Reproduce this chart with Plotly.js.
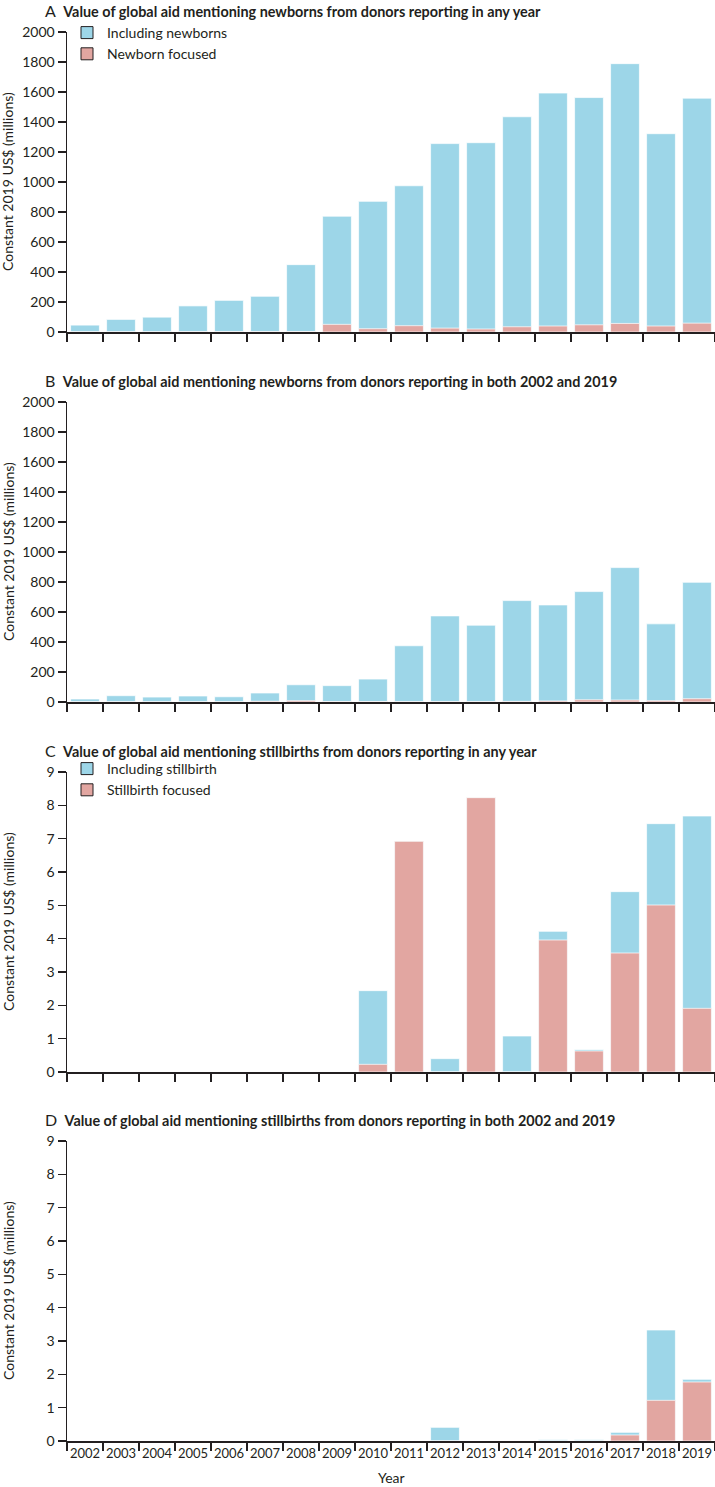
<!DOCTYPE html>
<html>
<head>
<meta charset="utf-8">
<script src="https://cdn.plot.ly/plotly-3.0.1.min.js"></script>
<style>
  body { margin: 0; background: #fff; }
  #chart { width: 715px; height: 1487px; }
</style>
</head>
<body>
<div id="chart"></div>
<script>
// years on the x axis
var years = ['2002', '2003', '2004', '2005', '2006', '2007', '2008', '2009', '2010',
             '2011', '2012', '2013', '2014', '2015', '2016', '2017', '2018', '2019']

// A - newborns, donors reporting in any year (US$ millions)
var newbornAnyIncl = [46, 84, 99, 174, 211, 238, 449, 772, 871, 975, 1256, 1262, 1435, 1593, 1563, 1789, 1322, 1559]
var newbornAnyFocus = [1, 1, 1, 2, 2, 2, 3, 51, 22, 42, 26, 20, 35, 40, 48, 57, 40, 59]

// B - newborns, donors reporting in both 2002 and 2019
var newbornBothIncl = [20, 42, 33, 40, 35, 60, 115, 109, 153, 375, 574, 512, 676, 647, 736, 896, 521, 798]
var newbornBothFocus = [1, 1, 1, 1, 1, 5, 9, 3, 3, 2, 2, 2, 4, 7, 15, 13, 9, 22]

// C - stillbirths, donors reporting in any year
var stillAnyIncl = [0, 0, 0, 0, 0, 0, 0, 0, 2.44, 6.92, 0.40, 8.23, 1.08, 4.22, 0.67, 5.41, 7.45, 7.68]
var stillAnyFocus = [0, 0, 0, 0, 0, 0, 0, 0, 0.23, 6.92, 0, 8.23, 0, 3.96, 0.63, 3.57, 5.01, 1.91]

// D - stillbirths, donors reporting in both 2002 and 2019
var stillBothIncl = [0, 0, 0, 0, 0, 0, 0, 0, 0, 0, 0.41, 0, 0, 0.04, 0.04, 0.26, 3.33, 1.85]
var stillBothFocus = [0, 0, 0, 0, 0, 0, 0, 0, 0, 0, 0, 0, 0, 0, 0, 0.18, 1.22, 1.77]

var titles = [
    'Value of global aid mentioning newborns from donors reporting in any year',
    'Value of global aid mentioning newborns from donors reporting in both 2002 and 2019',
    'Value of global aid mentioning stillbirths from donors reporting in any year',
    'Value of global aid mentioning stillbirths from donors reporting in both 2002 and 2019'
]
var letters = ['A', 'B', 'C', 'D']

var blue = '#9dd6e8'
var pink = '#e2a6a1'
var ink = '#231f20'
var font = 'Lato, "Open Sans", sans-serif'

var W = 715, H = 1487, L = 67
// pixel top of each plot area
var tops = [32, 402, 772, 1141]
var plotH = 300

function py(p) { return 1 - p / H }
function px(p) { return (p - L) / (W - L) }

var series = [
    [newbornAnyIncl, newbornAnyFocus],
    [newbornBothIncl, newbornBothFocus],
    [stillAnyIncl, stillAnyFocus],
    [stillBothIncl, stillBothFocus]
]

var data = []
series.forEach(function (s, i) {
    var xa = i === 0 ? 'x' : 'x' + (i + 1)
    var ya = i === 0 ? 'y' : 'y' + (i + 1)
    data.push({
        type: 'bar', x: years, y: s[0], xaxis: xa, yaxis: ya,
        marker: { color: blue, line: { color: 'rgba(255,255,255,0.7)', width: 1 } },
        showlegend: false, hoverinfo: 'x+y'
    })
    data.push({
        type: 'bar', x: years, y: s[1], xaxis: xa, yaxis: ya,
        marker: { color: pink, line: { color: 'rgba(255,255,255,0.7)', width: 1 } },
        showlegend: false, hoverinfo: 'x+y'
    })
})

// legend-only entries (dark outline like the original key)
var legendNames = [['Including newborns', 'Newborn focused', 'legend', 'x', 'y'],
                   ['Including stillbirth', 'Stillbirth focused', 'legend2', 'x3', 'y3']]
legendNames.forEach(function (ln) {
    data.push({
        type: 'bar', x: [years[0]], y: [null], name: ln[0], legend: ln[2],
        xaxis: ln[3], yaxis: ln[4],
        marker: { color: blue, line: { color: ink, width: 1 } }
    })
    data.push({
        type: 'bar', x: [years[0]], y: [null], name: ln[1], legend: ln[2],
        xaxis: ln[3], yaxis: ln[4],
        marker: { color: pink, line: { color: ink, width: 1 } }
    })
})

var legendBase = {
    xanchor: 'left', yanchor: 'top', bgcolor: 'rgba(0,0,0,0)',
    font: { size: 14, color: ink }, tracegroupgap: 0, itemclick: false
}

var layout = {
    width: W, height: H,
    margin: { l: L, r: 0, t: 0, b: 0 },
    paper_bgcolor: '#fff', plot_bgcolor: '#fff',
    barmode: 'overlay', bargap: 0.2,
    font: { family: font, size: 14, color: ink },
    annotations: [],
    legend: Object.assign({ x: px(67), y: py(17) }, legendBase),
    legend2: Object.assign({ x: px(67), y: py(tops[2] - 19) }, legendBase)
}

for (var i = 0; i < 4; i++) {
    var sfx = i === 0 ? '' : String(i + 1)
    var big = i < 2
    layout['xaxis' + sfx] = {
        domain: [0, 1], anchor: 'y' + sfx, type: 'category',
        range: [-0.5, 17.5], fixedrange: true,
        showline: true, linecolor: ink, linewidth: 1.5,
        ticks: 'outside', ticklen: 8, tickwidth: 1.5, tickcolor: ink,
        tickson: 'boundaries', showgrid: false, zeroline: false,
        showticklabels: i === 3, tickangle: 0,
        tickfont: { size: 13, color: ink }
    }
    layout['yaxis' + sfx] = {
        domain: [py(tops[i] + plotH), py(tops[i])], anchor: 'x' + sfx,
        range: big ? [0, 2000] : [0, 9], dtick: big ? 200 : 1,
        fixedrange: true, showline: true, linecolor: ink, linewidth: 1.5,
        ticks: 'outside', ticklen: 8, tickwidth: 1.5, tickcolor: ink,
        showgrid: false, zeroline: false,
        tickfont: { size: 14, color: ink }
    }
    layout.annotations.push({
        xref: 'paper', yref: 'paper', x: px(43), y: py(tops[i] - 22),
        xanchor: 'left', yanchor: 'middle', showarrow: false,
        text: '<span style="font-size:16px">' + letters[i] + '</span>  <b>' + titles[i] + '</b>',
        font: { size: 14.4, color: ink }
    })
    layout.annotations.push({
        xref: 'paper', yref: 'paper', x: px(8), y: py(tops[i] + plotH / 2),
        xanchor: 'center', yanchor: 'middle', showarrow: false, textangle: -90,
        text: 'Constant 2019 US$ (millions)',
        font: { size: 14, color: ink }
    })
}

layout.annotations.push({
    xref: 'paper', yref: 'paper', x: 0.5, y: py(1477),
    xanchor: 'center', yanchor: 'middle', showarrow: false,
    text: 'Year', font: { size: 14, color: ink }
})

Plotly.newPlot('chart', data, layout, { displayModeBar: false, staticPlot: true })
</script>
</body>
</html>
